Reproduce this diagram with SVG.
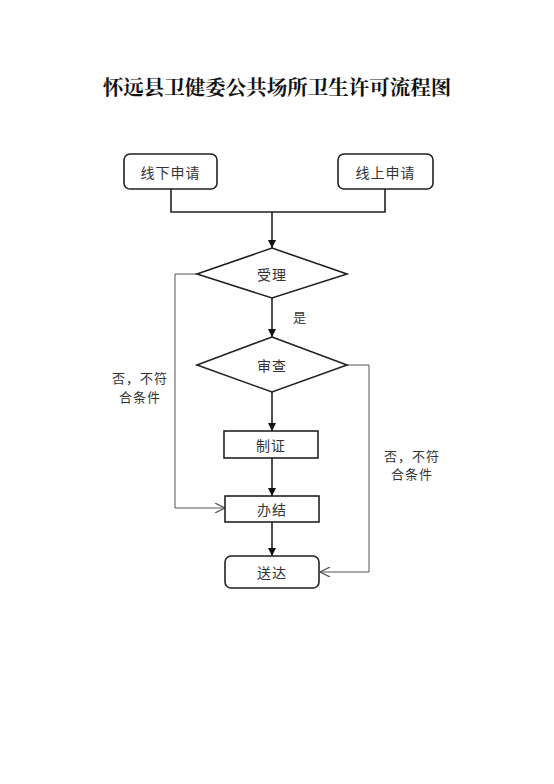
<svg xmlns="http://www.w3.org/2000/svg" width="554" height="784" viewBox="0 0 554 784">
<defs>
<style>
.t{font-family:"Noto Sans CJK SC",sans-serif;font-size:14px;fill:#333;text-anchor:middle;dominant-baseline:central;letter-spacing:1px}
.lbl{font-family:"Noto Sans CJK SC",sans-serif;font-size:13px;fill:#333;text-anchor:middle;letter-spacing:1px}
.box{fill:#fff;stroke:#222;stroke-width:1.6}
.main{fill:none;stroke:#222;stroke-width:1.6}
.no{fill:none;stroke:#555;stroke-width:1}
</style>
<marker id="fa" viewBox="0 0 10 10" refX="10" refY="5" markerWidth="8" markerHeight="8" markerUnits="userSpaceOnUse" orient="auto"><path d="M0,0 L10,5 L0,10 z" fill="#111"/></marker>
<marker id="oa" viewBox="0 0 10 10" refX="10" refY="5" markerWidth="10" markerHeight="10" markerUnits="userSpaceOnUse" orient="auto"><path d="M0,0 L10,5 L0,10" fill="none" stroke="#555" stroke-width="1.2"/></marker>
</defs>
<rect width="554" height="784" fill="#fff"/>
<text x="277" y="95" font-family="'Noto Serif CJK SC','Noto Sans CJK SC',serif" font-weight="bold" font-size="20.5" text-anchor="middle" fill="#111">怀远县卫健委公共场所卫生许可流程图</text>
<g id="connectors">
<path class="main" d="M171,189 V212 H385 V189"/>
<path class="main" d="M272,212 V248" marker-end="url(#fa)"/>
<path class="main" d="M272,298 V337" marker-end="url(#fa)"/>
<path class="main" d="M272,392 V431" marker-end="url(#fa)"/>
<path class="main" d="M272,458 V496" marker-end="url(#fa)"/>
<path class="main" d="M272,522 V556" marker-end="url(#fa)"/>
<path class="no" d="M197,274 H175 V508 H225" marker-end="url(#oa)"/>
<path class="no" d="M347,365 H369 V572 H320" marker-end="url(#oa)"/>
<text class="lbl" x="300" y="322">是</text>
<text class="lbl" x="140" y="383">否，不符</text>
<text class="lbl" x="140" y="402">合条件</text>
<text class="lbl" x="412" y="461">否，不符</text>
<text class="lbl" x="412" y="479">合条件</text>
</g>
<g id="offline"><rect class="box" x="124" y="154" width="93" height="35" rx="6"/><text class="t" x="170.5" y="171.5">线下申请</text></g>
<g id="online"><rect class="box" x="338" y="154" width="95" height="35" rx="6"/><text class="t" x="385.5" y="171.5">线上申请</text></g>
<g id="accept"><polygon class="box" points="272,248 347,274 272,298 197,274"/><text class="t" x="272" y="274">受理</text></g>
<g id="review"><polygon class="box" points="272,337 347,365 272,392 197,365"/><text class="t" x="272" y="365">审查</text></g>
<g id="make"><rect class="box" x="224" y="431" width="94" height="27"/><text class="t" x="271" y="444.5">制证</text></g>
<g id="finish"><rect class="box" x="225" y="496" width="94" height="26"/><text class="t" x="272" y="509">办结</text></g>
<g id="deliver"><rect class="box" x="225" y="556" width="94" height="32" rx="6"/><text class="t" x="272" y="572">送达</text></g>
</svg>
